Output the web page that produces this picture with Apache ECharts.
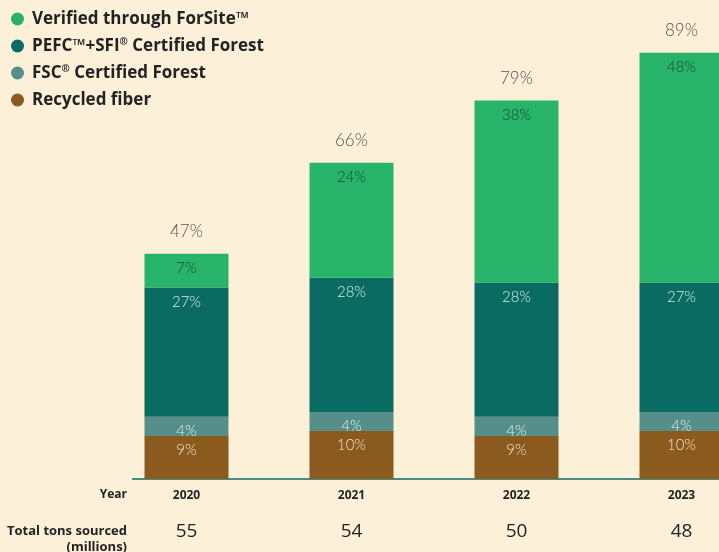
<!DOCTYPE html>
<html><head><meta charset="utf-8">
<script src="https://cdn.jsdelivr.net/npm/echarts@6/dist/echarts.min.js"></script>
<style>html,body{margin:0;padding:0;background:#fdf0d9;}#c{width:719px;height:552px;}</style>
</head><body><div id="c"></div>
<script>
const years = ['2020','2021','2022','2023'];
const tons = [55, 54, 50, 48];
const recycled = [9, 10, 9, 10];
const fsc = [4, 4, 4, 4];
const pefc = [27, 28, 28, 27];
const forsite = [7, 24, 38, 48];
const totals = [47, 66, 79, 89];
const seriesNames = ['Verified through ForSite™', 'PEFC™+SFI® Certified Forest', 'FSC® Certified Forest', 'Recycled fiber'];

const FONT = '"Open Sans", Lato, sans-serif';
const LFONT = 'Lato, "Open Sans", sans-serif';
const chart = echarts.init(document.getElementById('c'));
function barSeries(name, data, color, labelColor) {
  return {
    name: name, type: 'bar', stack: 'a', data: data, barWidth: 84,
    itemStyle: { color: color },
    label: { show: true, position: 'insideTop', distance: 7, formatter: '{c}%',
             color: labelColor, fontSize: 15, fontWeight: 300, fontFamily: LFONT }
  };
}
chart.setOption({
  backgroundColor: '#fdf0d9',
  animation: false,
  legend: {
    orient: 'vertical', left: 6, top: 5, itemGap: 9, itemWidth: 13, itemHeight: 13,
    icon: 'circle', selectedMode: false,
    data: seriesNames,
    formatter: function (n) { return n.replace(/®/g, '{s|®}'); },
    textStyle: { fontFamily: FONT, fontWeight: 'bold', fontSize: 17, color: '#222', lineHeight: 18, padding: [0,0,0,3],
      rich: { s: { fontFamily: FONT, fontWeight: 'bold', fontSize: 10, color: '#222', verticalAlign: 'top', lineHeight: 18, padding: [0,0,6,0] } } }
  },
  grid: { left: 104, width: 660, top: 0, bottom: 73, outerBoundsMode: 'none', containLabel: false },
  xAxis: {
    type: 'category', data: years,
    axisLine: { show: false }, axisTick: { show: false },
    axisLabel: {
      margin: 8,
      formatter: function (v, i) { return '{y|' + v + '}\n{t|' + tons[i] + '}'; },
      rich: {
        y: { fontFamily: FONT, fontWeight: 'bold', fontSize: 12, color: '#222', lineHeight: 18 },
        t: { fontFamily: FONT, fontSize: 19, color: '#222', lineHeight: 54 }
      }
    }
  },
  yAxis: { type: 'value', min: 0, max: 100, show: false, splitLine: { show: false } },
  series: [
    barSeries(seriesNames[3], recycled, '#8b5a1f', '#f3e0c4'),
    barSeries(seriesNames[2], fsc, '#568f89', '#dcefeb'),
    barSeries(seriesNames[1], pefc, '#0a6b62', '#d2ece4'),
    barSeries(seriesNames[0], forsite, '#27b36a', '#1d4a33'),
    {
      type: 'scatter', data: totals, symbolSize: 0, silent: true,
      label: { show: true, position: 'top', distance: 14, formatter: '{c}%',
               color: '#2a2a2a', fontSize: 17, fontWeight: 300, fontFamily: LFONT }
    }
  ],
  graphic: [
    { type: 'line', shape: { x1: 132, y1: 479, x2: 719, y2: 479 }, style: { stroke: '#0a6b62', lineWidth: 1.5 }, z: 0 },
    { type: 'text', right: 592, top: 489, style: { text: 'Year', font: 'bold 12px ' + FONT, fill: '#222', textAlign: 'right' } },
    { type: 'text', right: 592, top: 523, style: { text: 'Total tons sourced\n(millions)', font: 'bold 13px ' + FONT, fill: '#222', textAlign: 'right', lineHeight: 16 } }
  ]
});
</script></body></html>
